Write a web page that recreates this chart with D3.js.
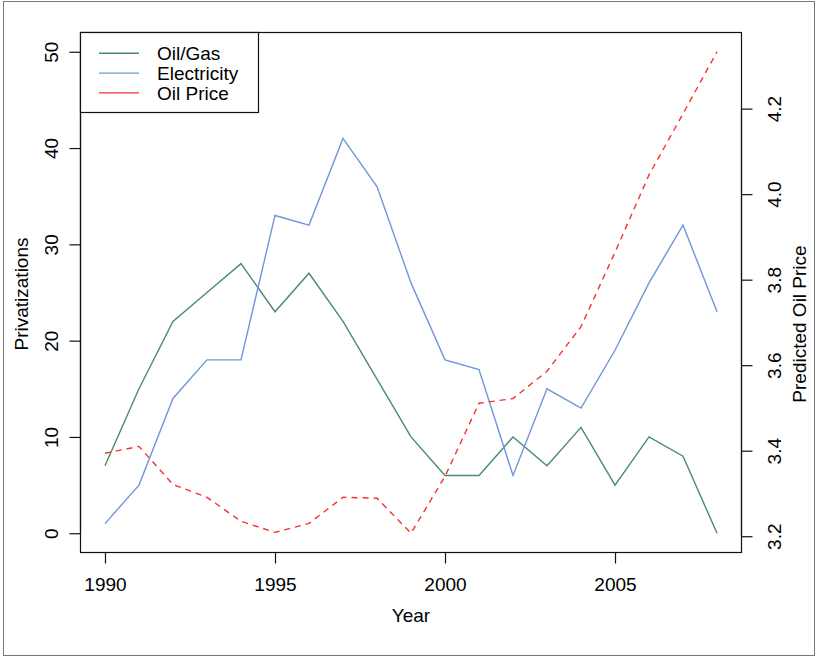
<!DOCTYPE html>
<html>
<head>
<meta charset="utf-8">
<script src="https://cdn.jsdelivr.net/npm/d3@7"></script>
<style>
  body { margin: 0; background: #fff; }
  svg text { font-family: "Liberation Sans", Arial, sans-serif; fill: #000; }
</style>
</head>
<body>
<svg id="chart" width="818" height="658"></svg>
<script>
/* Privatizations vs predicted oil price */

const years = [1990, 1991, 1992, 1993, 1994, 1995, 1996, 1997, 1998, 1999,
  2000, 2001, 2002, 2003, 2004, 2005, 2006, 2007, 2008];
const oilGas = [7, 15, 22, 25, 28, 23, 27, 22, 16, 10, 6, 6, 10, 7, 11, 5, 10, 8, 0];
const electricity = [1, 5, 14, 18, 18, 33, 32, 41, 36, 26, 18, 17, 6, 15, 13, 19, 26, 32, 23];
const oilPrice = [3.394, 3.410, 3.321, 3.291, 3.235, 3.209, 3.230, 3.291, 3.289, 3.207,
  3.340, 3.511, 3.522, 3.586, 3.690, 3.864, 4.045, 4.188, 4.333];

const xTicks = [1990, 1995, 2000, 2005];
const leftTicks = [0, 10, 20, 30, 40, 50];
const rightTicks = [3.2, 3.4, 3.6, 3.8, 4.0, 4.2];
const legendNames = ['Oil/Gas', 'Electricity', 'Oil Price'];

const colGreen = '#4a8b6f';
const colBlue = '#6f96d8';
const colRed = '#f53030';

// R style axis range: data range padded by 4% on each side
function padded(ext) {
  const d = (ext[1] - ext[0]) * 0.04;
  return [ext[0] - d, ext[1] + d];
}

function drawChart() {
  const svg = d3.select('#chart');
  const plot = { left: 80.5, right: 741.5, top: 32.5, bottom: 552.5 };

  const x = d3.scaleLinear().domain(padded(d3.extent(years))).range([plot.left, plot.right]);
  const yL = d3.scaleLinear().domain(padded([0, 50])).range([plot.bottom, plot.top]);
  const yR = d3.scaleLinear().domain(padded(d3.extent(oilPrice))).range([plot.bottom, plot.top]);

  // outer figure frame
  svg.append('rect')
    .attr('x', 3.5).attr('y', 1.5).attr('width', 811).attr('height', 654)
    .attr('fill', 'none').attr('stroke', '#777').attr('stroke-width', 1);

  const lineL = (vals) => d3.line().x((d, i) => x(years[i])).y(d => yL(d))(vals);

  svg.append('path').attr('d', lineL(oilGas))
    .attr('fill', 'none').attr('stroke', colGreen).attr('stroke-width', 1.4);
  svg.append('path').attr('d', lineL(electricity))
    .attr('fill', 'none').attr('stroke', colBlue).attr('stroke-width', 1.4);
  svg.append('path')
    .attr('d', d3.line().x((d, i) => x(years[i])).y(d => yR(d))(oilPrice))
    .attr('fill', 'none').attr('stroke', colRed).attr('stroke-width', 1.4)
    .attr('stroke-dasharray', '6,5');

  // plot box
  svg.append('rect')
    .attr('x', plot.left).attr('y', plot.top)
    .attr('width', plot.right - plot.left).attr('height', plot.bottom - plot.top)
    .attr('fill', 'none').attr('stroke', '#111').attr('stroke-width', 1.2);

  const fs = '19px';

  // bottom axis
  const bottom = svg.append('g')
    .attr('transform', `translate(0,${plot.bottom})`)
    .call(d3.axisBottom(x).tickValues(xTicks).tickFormat(d3.format('d')).tickSize(11).tickPadding(14));
  bottom.select('.domain').attr('d', `M${x(1990)},0H${x(2005)}`).attr('stroke', '#111').attr('stroke-width', 1.2);
  bottom.selectAll('.tick line').attr('stroke', '#111').attr('stroke-width', 1.2);
  bottom.selectAll('.tick text').attr('font-size', fs).attr('font-family', null);

  // left axis, labels turned sideways
  const left = svg.append('g')
    .attr('transform', `translate(${plot.left},0)`)
    .call(d3.axisLeft(yL).tickValues(leftTicks).tickSize(11));
  left.select('.domain').attr('d', `M0,${yL(0)}V${yL(50)}`).attr('stroke', '#111').attr('stroke-width', 1.2);
  left.selectAll('.tick line').attr('stroke', '#111').attr('stroke-width', 1.2);
  left.selectAll('.tick text')
    .attr('font-size', fs).attr('font-family', null)
    .attr('x', null).attr('dy', null)
    .attr('text-anchor', 'middle')
    .attr('transform', 'translate(-23,0) rotate(-90)');

  // right axis
  const right = svg.append('g')
    .attr('transform', `translate(${plot.right},0)`)
    .call(d3.axisRight(yR).tickValues(rightTicks).tickFormat(d3.format('.1f')).tickSize(11));
  right.select('.domain').attr('d', `M0,${yR(3.2)}V${yR(4.2)}`).attr('stroke', '#111').attr('stroke-width', 1.2);
  right.selectAll('.tick line').attr('stroke', '#111').attr('stroke-width', 1.2);
  right.selectAll('.tick text')
    .attr('font-size', fs).attr('font-family', null)
    .attr('x', null).attr('dy', null)
    .attr('text-anchor', 'middle')
    .attr('transform', 'translate(39,0) rotate(-90)');

  // axis titles
  svg.append('text').attr('x', 411).attr('y', 622)
    .attr('text-anchor', 'middle').attr('font-size', fs).text('Year');
  svg.append('text')
    .attr('transform', 'translate(28,294) rotate(-90)')
    .attr('text-anchor', 'middle').attr('font-size', fs).text('Privatizations');
  svg.append('text')
    .attr('transform', 'translate(806,324) rotate(-90)')
    .attr('text-anchor', 'middle').attr('font-size', fs).text('Predicted Oil Price');

  // legend
  const legend = svg.append('g');
  legend.append('rect')
    .attr('x', 80.5).attr('y', 32.5).attr('width', 178).attr('height', 80)
    .attr('fill', '#fff').attr('stroke', '#111').attr('stroke-width', 1.2);
  const cols = [colGreen, colBlue, colRed];
  legendNames.forEach((name, i) => {
    const cy = 53.3 + i * 19.8;
    legend.append('line')
      .attr('x1', 99).attr('x2', 139).attr('y1', cy).attr('y2', cy)
      .attr('stroke', cols[i]).attr('stroke-width', 1.4);
    legend.append('text')
      .attr('x', 157).attr('y', cy + 6.8)
      .attr('font-size', fs).text(name);
  });
}

document.addEventListener('DOMContentLoaded', drawChart);
</script>
</body>
</html>
